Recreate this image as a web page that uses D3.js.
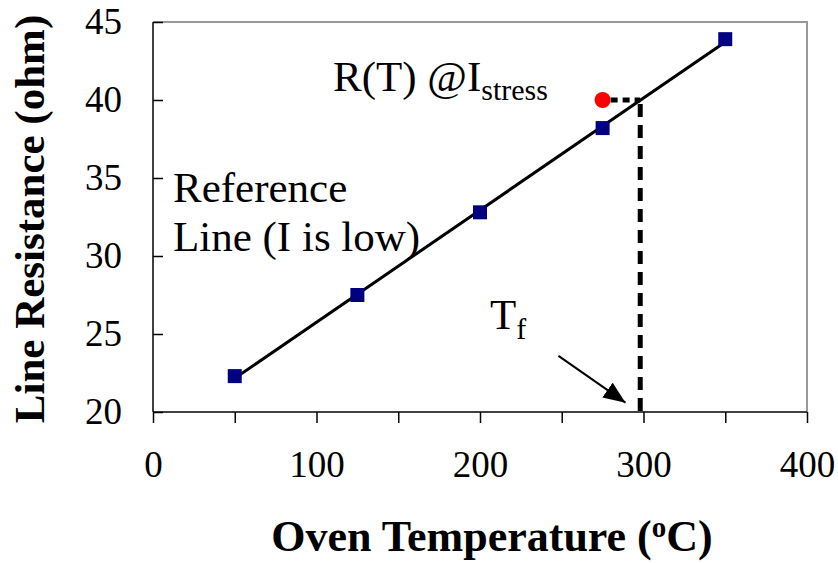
<!DOCTYPE html>
<html>
<head>
<meta charset="utf-8">
<script src="https://cdn.jsdelivr.net/npm/d3@7"></script>
<style>
  body { margin: 0; background: #fff; }
  svg text { font-family: "Liberation Serif", "Times New Roman", "DejaVu Serif", serif; fill: #000; }
</style>
</head>
<body>
<div id="chart"></div>
<script>
// data
var temps = [50, 125, 200, 275, 350];
var resistance = [22.3, 27.5, 32.8, 38.2, 43.9];
var stressPoint = [275, 40];          // R(T) @ I stress
var tFail = 298;                        // T_f where line reaches 40 ohm
var xTicks = [0, 50, 100, 150, 200, 250, 300, 350, 400];
var yTicks = [20, 25, 30, 35, 40, 45];
var arrowFrom = [248, 23.6], arrowTo = [289, 20.6];

var width = 838, height = 563;
var svg = d3.select("#chart").append("svg")
    .attr("width", width)
    .attr("height", height);

var x = d3.scaleLinear().domain([0, 400]).range([153, 807]);
var y = d3.scaleLinear().domain([20, 45]).range([412, 22]);

// plot frame (top + right grey)
svg.append("path")
    .attr("d", "M" + x(0) + "," + y(45) + "H" + x(400) + "V" + y(20))
    .attr("fill", "none")
    .attr("stroke", "#999")
    .attr("stroke-width", 2);

// axes
var xAxis = d3.axisBottom(x).tickValues(xTicks).tickSize(11)
    .tickFormat(function (d) { return d % 100 == 0 ? d : ""; });
var gx = svg.append("g").attr("transform", "translate(0," + y(20) + ")").call(xAxis);
gx.selectAll("text").attr("y", 65).attr("dy", 0).style("font-size", "37px");

var yAxis = d3.axisLeft(y).tickValues(yTicks).tickSize(-10).tickPadding(31);
var gy = svg.append("g").attr("transform", "translate(" + x(0) + ",0)").call(yAxis);
gy.selectAll("text").style("font-size", "37px");

svg.selectAll("g").attr("font-family", null);
svg.selectAll(".domain").attr("stroke", "#000").attr("stroke-width", 1.5);
svg.selectAll(".tick line").attr("stroke", "#000").attr("stroke-width", 1.5);
gy.select(".domain").attr("d", "M0," + y(45) + "V" + y(20));
gx.select(".domain").attr("d", "M" + x(0) + ",0H" + x(400));

// reference line (least squares through the points)
var n = temps.length;
var mx = d3.mean(temps), my = d3.mean(resistance);
var slope = d3.sum(temps, function (t, i) { return (t - mx) * (resistance[i] - my); }) /
    d3.sum(temps, function (t) { return (t - mx) * (t - mx); });
var icpt = my - slope * mx;
svg.append("line")
    .attr("x1", x(temps[0])).attr("y1", y(icpt + slope * temps[0]))
    .attr("x2", x(temps[n - 1])).attr("y2", y(icpt + slope * temps[n - 1]))
    .attr("stroke", "#000").attr("stroke-width", 3);

// dotted + dashed guides
svg.append("line")
    .attr("x1", x(stressPoint[0]) + 8).attr("y1", y(stressPoint[1]))
    .attr("x2", x(tFail)).attr("y2", y(stressPoint[1]))
    .attr("stroke", "#000").attr("stroke-width", 5)
    .attr("stroke-dasharray", "7,5");
svg.append("line")
    .attr("x1", x(tFail)).attr("y1", y(stressPoint[1]) + 4)
    .attr("x2", x(tFail)).attr("y2", y(20))
    .attr("stroke", "#000").attr("stroke-width", 5)
    .attr("stroke-dasharray", "13,8");

// markers
svg.selectAll("rect.pt").data(temps).enter().append("rect")
    .attr("class", "pt")
    .attr("x", function (d) { return x(d) - 7; })
    .attr("y", function (d, i) { return y(resistance[i]) - 7; })
    .attr("width", 14).attr("height", 14)
    .attr("fill", "#000080");
svg.append("circle")
    .attr("cx", x(stressPoint[0])).attr("cy", y(stressPoint[1]))
    .attr("r", 8).attr("fill", "#ff0000");

// arrow
svg.append("defs").append("marker")
    .attr("id", "arr").attr("viewBox", "0 0 10 10")
    .attr("refX", 10).attr("refY", 5)
    .attr("markerWidth", 22).attr("markerHeight", 18)
    .attr("markerUnits", "userSpaceOnUse")
    .attr("orient", "auto")
    .attr("preserveAspectRatio", "none")
    .append("path").attr("d", "M0,0L10,5L0,10z").attr("fill", "#000");
svg.append("line")
    .attr("x1", x(arrowFrom[0])).attr("y1", y(arrowFrom[1]))
    .attr("x2", x(arrowTo[0])).attr("y2", y(arrowTo[1]))
    .attr("stroke", "#000").attr("stroke-width", 2)
    .attr("marker-end", "url(#arr)");

// annotations
var t1 = svg.append("text").attr("x", 333).attr("y", 91).style("font-size", "43px");
t1.append("tspan").text("R(T) @I");
t1.append("tspan").attr("dy", 9).style("font-size", "30px").text("stress");

svg.append("text").attr("x", 173).attr("y", 202).style("font-size", "43px").text("Reference");
svg.append("text").attr("x", 173).attr("y", 251).style("font-size", "43px").text("Line (I is low)");

var t2 = svg.append("text").attr("x", 490).attr("y", 329).style("font-size", "43px");
t2.append("tspan").text("T");
t2.append("tspan").attr("dy", 10).style("font-size", "30px").text("f");

// axis titles
var xt = svg.append("text").attr("x", 492).attr("y", 551)
    .attr("text-anchor", "middle")
    .style("font-size", "44px").style("font-weight", "bold");
xt.append("tspan").text("Oven Temperature (");
xt.append("tspan").attr("dy", -14).style("font-size", "29px").text("o");
xt.append("tspan").attr("dy", 14).text("C)");

svg.append("text")
    .attr("transform", "translate(44,219) rotate(-90)")
    .attr("text-anchor", "middle")
    .style("font-size", "43px").style("font-weight", "bold")
    .text("Line Resistance (ohm)");
</script>
</body>
</html>
